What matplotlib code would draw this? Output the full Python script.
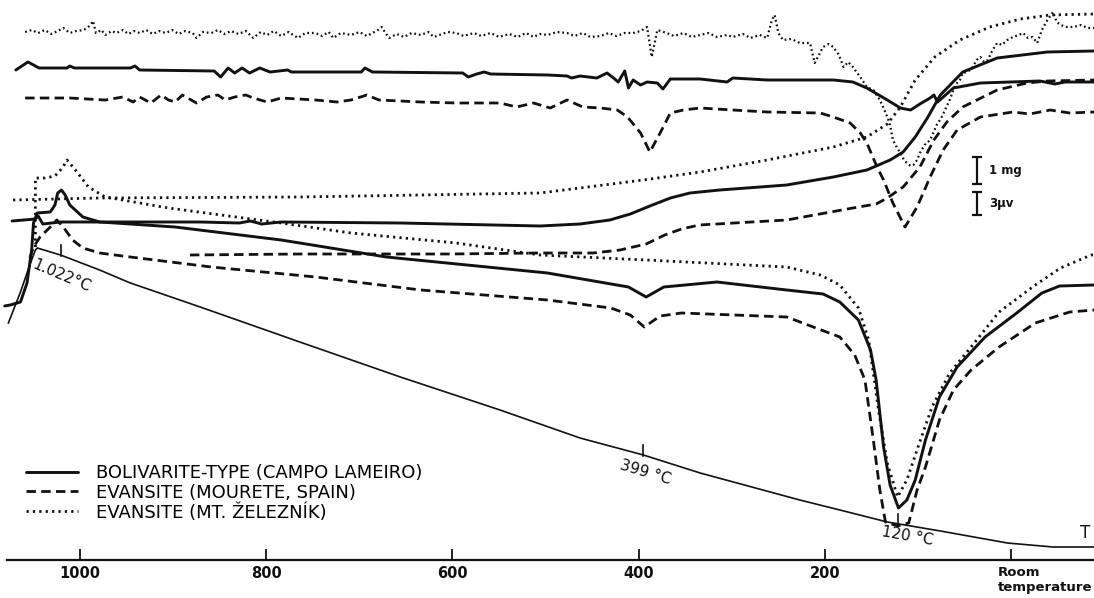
import matplotlib
matplotlib.use("Agg")
import matplotlib.pyplot as plt
import numpy as np

# x: chart temperature scale (deg C, 0 = room temperature); y: pen deflection (chart units, measured downward)

# ---- temperature trace T
t_x = [1077, 1064, 1054, 1048, 1046, 1021, 979, 946, 871, 764, 656, 549, 463, 395, 334, 227, 184, 133, 76, 4, -45, -89]
t_y = [323, 292, 265, 250, 248, 255, 270, 283, 307, 342, 377, 410, 438, 455, 473, 500, 510, 522, 531, 543, 547, 547]

# ---- DTA curves
dta_bol_x = [1081, 1075, 1064, 1057, 1052, 1050, 1046, 1032, 1027, 1024, 1020, 1016, 1011, 997, 979, 946, 898, 784,
             671, 498, 411, 392, 373, 316, 241, 202, 184, 164, 151, 145, 137, 130, 121, 112, 103, 92, 77, 58, 28,
             -6, -33, -52, -89]
dta_bol_y = [306, 305, 302, 283, 250, 223, 213, 212, 205, 193, 190, 195, 205, 217, 222, 224, 227, 240,
             257, 273, 287, 297, 287, 282, 290, 294, 302, 320, 350, 380, 447, 485, 508, 500, 480, 440, 397, 367, 337,
             313, 293, 286, 285]

dta_mou_x = [1054, 1050, 1043, 1032, 1025, 1018, 1008, 997, 979, 946, 859, 747, 634, 498, 430, 409, 394, 377, 354,
             241, 184, 168, 157, 148, 141, 135, 122, 110, 101, 92, 77, 62, 43, 13, -26, -63, -89]
dta_mou_y = [258, 247, 237, 227, 220, 227, 240, 248, 253, 257, 267, 277, 290, 300, 308, 315, 327, 316, 313,
             317, 337, 355, 380, 440, 490, 522, 526, 523, 490, 467, 420, 390, 370, 347, 323, 312, 310]

dta_zel_x = [1048, 1048, 1038, 1027, 1019, 1014, 1005, 991, 973, 905, 784, 709, 596, 506, 392, 241, 205, 184, 164,
             153, 142, 133, 122, 112, 100, 85, 66, 43, 13, -26, -53, -86, -89]
dta_zel_y = [247, 178, 178, 176, 168, 160, 170, 187, 197, 208, 223, 233, 243, 255, 260, 267, 275, 285, 308,
             340, 413, 463, 497, 480, 447, 407, 373, 347, 312, 285, 268, 255, 255]

# ---- TG curves
tg_bol_x = [1073, 1048, 1045, 1040, 1021, 871, 829, 817, 805, 784, 656, 506, 463, 431, 409, 388, 366, 345, 313,
            241, 191, 155, 130, 116, 103, 90, 76, 52, 15, -39, -89]
tg_bol_y = [221, 219, 216, 224, 222, 222, 223, 221, 224, 222, 223, 226, 224, 220, 214, 206, 198, 193, 190,
            185, 177, 170, 160, 152, 137, 118, 95, 72, 58, 52, 51]

tg_mou_x = [882, 764, 603, 506, 449, 420, 392, 372, 354, 335, 241, 170, 145, 133, 116, 98, 83, 69, 52, 15, -17, -39, -89]
tg_mou_y = [255, 254, 254, 253, 253, 250, 244, 235, 229, 225, 220, 208, 204, 198, 187, 167, 140, 122, 107, 90, 83, 81, 80]

tg_zel_x = [1072, 979, 764, 506, 395, 334, 262, 191, 155, 133, 119, 103, 82, 55, 23, -10, -42, -89]
tg_zel_y = [200, 198, 197, 193, 180, 172, 160, 147, 137, 124, 107, 80, 57, 40, 27, 19, 15, 14]

# ---- DTG curves
dtg_bol_x = [1069, 1056, 1044, 1014, 1011, 1006, 946, 941, 936, 856, 849, 841, 834, 826, 818, 807, 796, 777, 773,
             698, 694, 686, 589, 583, 574, 566, 559, 498, 477, 472, 463, 445, 434, 427, 422, 415, 411, 406, 398, 391,
             380, 374, 366, 334, 305, 299, 262, 191, 170, 155, 133, 119, 108, 98, 87, 83, 79, 62, 33, -31, -47, -58, -89]
dtg_bol_y = [70, 62, 68, 68, 66, 68, 68, 66, 70, 71, 77, 68, 73, 68, 73, 68, 72, 70, 72,
             72, 68, 72, 73, 77, 74, 72, 74, 75, 76, 78, 76, 78, 73, 78, 82, 71, 88, 80, 85, 82,
             83, 89, 79, 79, 82, 78, 80, 80, 82, 88, 100, 108, 110, 104, 98, 95, 102, 88, 83, 81, 84, 82, 82]

dtg_mou_x = [1059, 1011, 973, 954, 943, 936, 924, 913, 905, 898, 890, 875, 864, 852, 844, 834, 822, 814, 799, 784,
             747, 724, 709, 692, 679, 634, 596, 559, 549, 531, 513, 495, 477, 460, 441, 423, 412, 398, 388, 377, 366,
             352, 334, 299, 262, 205, 191, 173, 162, 155, 144, 137, 127, 114, 101, 87, 73, 58, 33, -2, -20, -42, -63, -89]
dtg_mou_y = [98, 98, 100, 97, 102, 97, 103, 95, 100, 102, 95, 103, 97, 95, 100, 97, 95, 98, 102, 98,
             100, 102, 100, 95, 100, 102, 103, 103, 103, 107, 103, 108, 100, 107, 108, 110, 117, 133, 152, 133, 113,
             110, 108, 110, 112, 113, 117, 123, 133, 143, 167, 180, 203, 227, 207, 177, 150, 130, 117, 112, 114, 110, 113, 112]

dtg_zel_x = [1059, 1052, 1045, 1038, 1031, 1024, 1018, 1011, 1004, 996, 990, 986, 983, 977, 973, 966, 961, 954, 948,
             942, 936, 929, 922, 915, 908, 901, 894, 887, 879, 875, 868, 859, 852, 845, 838, 830, 822, 814, 806, 799,
             792, 784, 776, 766, 758, 747, 740, 733, 728, 720, 709, 700, 692, 686, 680, 676, 672, 668, 660, 652, 644,
             634, 626, 620, 614, 605, 596, 588, 577, 569, 559, 550, 539, 530, 521, 513, 506, 498, 488, 477, 469, 460,
             452, 441, 432, 424, 415, 406, 398, 391, 386, 380, 370, 362, 352, 343, 334, 325, 316, 305, 299, 288, 280,
             270, 262, 257, 254, 250, 245, 236, 227, 216, 211, 202, 196, 191, 185, 180, 175, 170, 166, 162, 155, 148,
             141, 137, 133, 130, 127, 123, 119, 115, 112, 108, 105, 101, 98, 93, 87, 80, 75, 71, 66, 60, 55, 52, 47,
             42, 37, 33, 29, 25, 20, 15, 10, 4, -2, -8, -13, -18, -23, -28, -33, -39, -45, -49, -53, -60, -67, -75, -82, -89]
dtg_zel_y = [32, 30, 33, 30, 34, 31, 28, 33, 31, 30, 26, 21, 33, 30, 35, 31, 33, 30, 34,
             31, 33, 30, 34, 31, 33, 30, 34, 31, 33, 38, 32, 33, 30, 34, 31, 34, 31, 38, 32, 35,
             31, 36, 32, 38, 33, 33, 36, 32, 38, 33, 35, 32, 36, 33, 30, 27, 33, 38, 34, 37, 33,
             35, 32, 37, 35, 32, 33, 36, 33, 36, 33, 37, 34, 37, 33, 37, 34, 35, 32, 33, 36, 33,
             37, 36, 33, 36, 33, 33, 31, 27, 57, 30, 33, 36, 33, 37, 35, 33, 37, 35, 37, 34, 38,
             35, 38, 20, 15, 33, 40, 39, 43, 43, 63, 47, 44, 47, 55, 67, 62, 67, 72, 77, 87, 90,
             100, 108, 117, 125, 140, 147, 153, 160, 163, 166, 165, 160, 153, 145, 140, 125, 118, 110, 100, 85, 80, 73, 72,
             68, 60, 57, 62, 60, 50, 43, 45, 40, 37, 35, 33, 38, 37, 43, 30, 20, 12, 22, 25, 27, 27, 25, 28, 28]

# ---- annotations
legend_labels = ["BOLIVARITE-TYPE (CAMPO LAMEIRO)", "EVANSITE (MOURETE, SPAIN)", "EVANSITE (MT. ŽELEZNÍK)"]
tick_pos = [1000, 800, 600, 400, 200, 0]
tick_labels = ["1000", "800", "600", "400", "200", ""]
mark_x = [1021, 395, 121]
mark_text = ["1.022°C", "399 °C", "120 °C"]
mark_label_x = [1020, 393, 111]
mark_label_y = [276, 472, 536]
mark_rot = [-23, -17, -10]
scale_labels = ["1 mg", "3µv"]
scale_lo = [157, 192]
scale_hi = [184, 215]

ink = "#111111"
fig = plt.figure(figsize=(10.94, 5.98), dpi=100)
ax = fig.add_axes([0, 38 / 598, 1, 560 / 598])
ax.set_xlim(1086, -89)
ax.set_ylim(560, 0)
for s in ["top", "left", "right"]:
    ax.spines[s].set_visible(False)
ax.spines["bottom"].set_linewidth(1.6)
ax.spines["bottom"].set_color(ink)
ax.spines["bottom"].set_bounds(1078, -89)
ax.set_yticks([])
ax.set_xticks(tick_pos)
ax.set_xticklabels(tick_labels)
ax.tick_params(axis="x", direction="in", length=8, width=1.3, pad=4, labelsize=10.5, colors=ink)
for lab in ax.get_xticklabels():
    lab.set_fontweight("bold")

solid = dict(color=ink, lw=2.1, solid_capstyle="round")
dashed = dict(color=ink, lw=2.0, linestyle=(0, (3.4, 1.9)))
dotted = dict(color=ink, lw=2.0, linestyle=(0, (0.8, 1.5)))

ax.plot(t_x, t_y, color=ink, lw=1.2)
h1, = ax.plot(dta_bol_x, dta_bol_y, **solid)
h2, = ax.plot(dta_mou_x, dta_mou_y, **dashed)
h3, = ax.plot(dta_zel_x, dta_zel_y, **dotted)
ax.plot(tg_bol_x, tg_bol_y, **solid)
ax.plot(tg_mou_x, tg_mou_y, **dashed)
ax.plot(tg_zel_x, tg_zel_y, **dotted)
ax.plot(dtg_bol_x, dtg_bol_y, **solid)
ax.plot(dtg_mou_x, dtg_mou_y, **dashed)
ax.plot(dtg_zel_x, dtg_zel_y, color=ink, lw=1.6, linestyle=(0, (0.8, 1.3)))

# temperature marks on the T trace
tx_inc = t_x[::-1]
ty_inc = t_y[::-1]
for mx, txt, lx, ly, rot in zip(mark_x, mark_text, mark_label_x, mark_label_y, mark_rot):
    yv = float(np.interp(mx, tx_inc, ty_inc))
    ax.plot([mx, mx], [yv - 10, yv + 1], color=ink, lw=1.2)
    ax.text(lx, ly, txt, rotation=rot, rotation_mode="anchor", ha="center", va="center",
            fontsize=11, color=ink)

ax.text(-79, 533, "T", fontsize=12, ha="center", va="center", color=ink)

# scale bars
for lab, lo, hi in zip(scale_labels, scale_lo, scale_hi):
    mid = (lo + hi) / 2
    ax.errorbar([37], [mid], yerr=[[mid - lo], [hi - mid]], fmt="none", ecolor=ink,
                elinewidth=1.6, capsize=3.5, capthick=1.6)
    ax.text(24, mid, lab, fontsize=8.5, fontweight="bold", ha="left", va="center", color=ink)

ax.text(14, 566, "Room\ntemperature", fontsize=9.5, fontweight="bold", ha="left", va="top",
        linespacing=1.15, color=ink, clip_on=False)

ax.legend([h1, h2, h3], legend_labels, loc="upper left", bbox_to_anchor=(26 / 1094, 1 - 464 / 598),
          bbox_transform=fig.transFigure, frameon=False, handlelength=2.9,
          handletextpad=0.95, labelspacing=0.09, borderpad=0, borderaxespad=0,
          prop={"size": 13})

fig.savefig("out.png", dpi=100, facecolor="white")
